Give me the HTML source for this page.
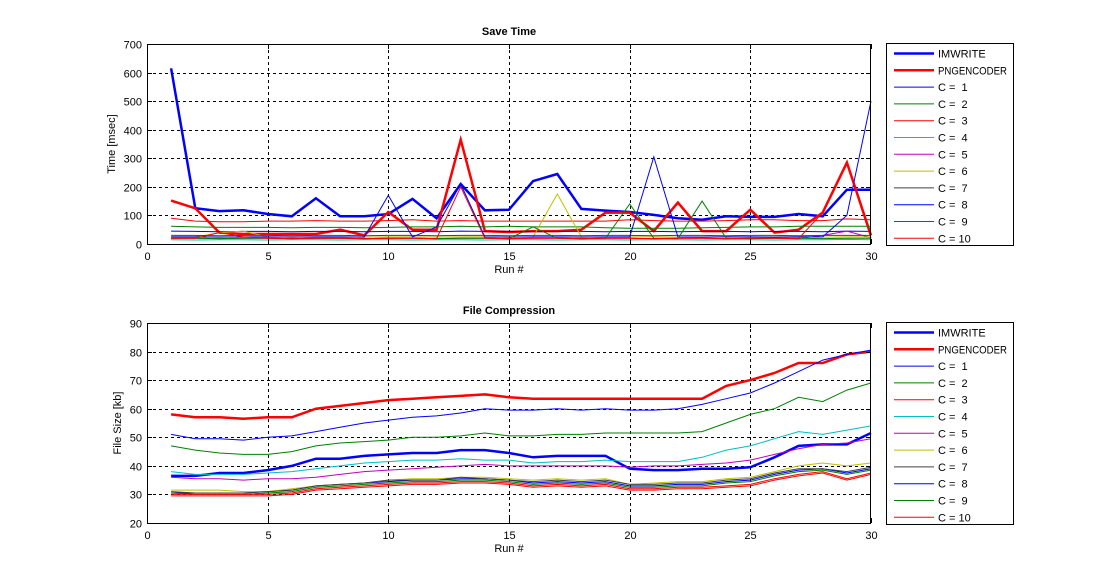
<!DOCTYPE html>
<html><head><meta charset="utf-8">
<style>
body{margin:0;background:#fff;}
svg{display:block;font-family:"Liberation Sans",Arial,sans-serif;}
text{white-space:pre;}
</style></head>
<body>
<svg id="fig" width="1120" height="588" viewBox="0 0 1120 588"></svg>
<script>
const runs = [1,2,3,4,5,6,7,8,9,10,11,12,13,14,15,16,17,18,19,20,21,22,23,24,25,26,27,28,29,30];
const seriesNames = ["IMWRITE","PNGENCODER","C =  1","C =  2","C =  3","C =  4","C =  5","C =  6","C =  7","C =  8","C =  9","C = 10"];
const xTicks = [0,5,10,15,20,25,30];
const timeTicks = [0,100,200,300,400,500,600,700];
const sizeTicks = [20,30,40,50,60,70,80,90];

const timeImwrite = [615,125,115,118,105,97,160,97,97,105,158,90,210,118,120,220,245,123,117,112,102,90,85,97,95,95,105,97,190,190];
const timePng = [152,125,40,35,35,35,35,50,30,112,50,50,365,45,42,45,45,50,110,110,45,145,45,45,120,40,50,110,285,30];
const timeC1 = [45,44,43,44,44,43,44,44,43,44,44,43,45,44,44,43,44,44,43,44,44,43,44,44,43,44,44,43,45,44];
const timeC2 = [62,60,58,58,58,57,58,58,57,58,60,60,62,60,62,60,60,60,57,55,55,55,57,58,60,60,62,62,62,62];
const timeC3 = [90,80,78,78,80,80,82,80,80,82,85,80,82,80,80,80,80,80,80,85,82,80,80,82,85,85,82,82,88,85];
const timeC4 = [15,14,15,15,14,15,15,14,15,15,14,15,15,14,15,15,14,15,15,14,15,15,14,15,15,14,15,15,16,15];
const timeC5 = [20,20,19,20,20,19,20,20,19,20,20,19,20,20,19,20,20,19,20,20,19,20,20,19,20,20,19,30,45,22];
const timeC6 = [25,25,40,45,25,24,25,25,24,25,25,24,25,25,24,25,175,25,24,25,25,24,25,25,24,25,25,24,25,25];
const timeC7 = [30,30,29,30,30,29,30,30,29,30,30,29,30,30,29,30,30,29,30,30,29,30,30,29,30,30,29,30,30,30];
const timeC8 = [25,25,24,25,25,24,25,25,24,170,25,60,210,25,24,25,25,24,25,25,305,25,24,25,25,24,25,25,100,500];
const timeC9 = [20,20,19,20,20,19,20,20,19,20,20,19,20,20,19,60,20,19,20,140,20,19,150,20,19,20,20,19,20,20];
const timeC10 = [20,20,40,25,20,19,20,20,19,20,20,19,200,20,19,20,20,19,20,20,19,20,20,19,20,20,19,110,283,20];

const sizeImwrite = [36.5,36.5,37.5,37.5,38.5,40,42.5,42.5,43.5,44,44.5,44.5,45.5,45.5,44.5,43,43.5,43.5,43.5,39,38.5,38.5,39,39,39.5,43,47,47.5,47.5,51.5];
const sizePng = [58,57,57,56.5,57,57,60,61,62,63,63.5,64,64.5,65,64,63.5,63.5,63.5,63.5,63.5,63.5,63.5,63.5,68,70,72.5,76,76,79,80];
const sizeC1 = [30.5,30.5,30.5,30.5,31,31.5,33,33.5,34,34.5,35,35,35.5,35.5,35,34,34.5,34,34.5,33,33,33.5,33.5,34.5,35,37,38.5,39,37.5,39];
const sizeC2 = [30.5,30,30,30,30.5,31,32.5,33,33.5,34,34.5,34.5,35,35,34.5,33.5,34,33.5,34,32.5,32.5,33,33,34,34.5,36.5,38,38.5,37,38.5];
const sizeC3 = [30,30,30,30,30,30.5,32,32.5,33,33.5,34,34,34.5,34.5,34,33,33.5,33,33.5,32,32,32.5,32.5,33,33.5,35.5,37,38,35.5,37.5];
const sizeC4 = [38,37,37,37,37.5,38,39,40,41,41.5,42,42,42.5,42,42,41,41.5,41.5,42,41.5,41.5,41.5,43,45.5,47,49.5,52,51,52.5,54];
const sizeC5 = [36,35.5,35.5,35,35.5,35.5,36,37,38,38.5,39,39.5,40,40.5,40,40,40,40,40,39.5,40,40,40.5,41,42,44,46,47.5,48,49.5];
const sizeC6 = [31.5,31.5,31.5,31,31,32,33,33.5,34,35,35.5,35.5,36,36,35.5,35,35.5,35,35.5,33.5,34,34.5,34.5,35.5,36,38,40,41,40,41];
const sizeC7 = [31,30.5,30.5,30.5,31,31.5,33,33.5,34,35,35,35,36,35.5,35,34.5,35,34.5,35,33.5,33.5,34,34,35,35.5,37.5,39,39,38,39.5];
const sizeC8 = [51,49.5,49.5,49,50,50.5,52,53.5,55,56,57,57.5,58.5,60,59.5,59.5,60,59.5,60,59.5,59.5,60,61.5,63.5,65.5,69,73,77,79,80.5];
const sizeC9 = [47,45.5,44.5,44,44,45,47,48,48.5,49,50,50,50.5,51.5,50.5,50.5,51,51,51.5,51.5,51.5,51.5,52,55,58,60,64,62.5,66.5,69];
const sizeC10 = [29.5,29.5,29.5,29.5,29.5,30,31.5,32,32.5,33,33.5,33.5,34,34,33.5,32.5,33,32.5,33,31.5,31.5,32,32,32.5,33,35,36.5,37.5,35,37];

const colors = ["#0000ff","#ff0000","#0000ff","#008000","#ff0000","#00bfbf","#bf00bf","#bfbf00","#404040","#0000ff","#008000","#ff0000"];
const widths = [2.5,2.5,1,1,1,1,1,1,1,1,1,1];

const NS = "http://www.w3.org/2000/svg";
const svg = document.getElementById('fig');
function mk(tag, attrs, parent, text){
  const e = document.createElementNS(NS, tag);
  for (const k in attrs) e.setAttribute(k, attrs[k]);
  if (text !== undefined) e.textContent = text;
  (parent || svg).appendChild(e);
  return e;
}

function drawPanel(cfg){
  const L=147,R=871,T=cfg.top,B=cfg.top+200;
  const sx = v => L + (v-0)/(30-0)*(R-L);
  const sy = v => B - (v-cfg.ymin)/(cfg.ymax-cfg.ymin)*(B-T);
  const g = mk('g',{});
  
  
  mk('rect',{x:L,y:T,width:R-L,height:B-T,fill:'#fff'},g);
  const grid = mk('g',{stroke:'#000','stroke-width':1,'stroke-dasharray':'3,3'},g);
  
  
  xTicks.forEach(t=>{ if(t>0&&t<30){ const x=Math.round(sx(t))+0.5; mk('line',{x1:x,y1:T,x2:x,y2:B},grid);} });
  cfg.yt.forEach(t=>{ if(t>cfg.ymin&&t<cfg.ymax){ const y=Math.round(sy(t))+0.5; mk('line',{x1:L,y1:y,x2:R,y2:y},grid);} });
  const sg = mk('g',{fill:'none','stroke-linejoin':'miter'},g);
  cfg.data.forEach((d,i)=>{
    const pts = runs.map((r,j)=>sx(r).toFixed(1)+','+sy(d[j]).toFixed(1)).join(' ');
    const pl = mk('polyline',{points:pts,stroke:colors[i],'stroke-width':widths[i]},sg);
    
    
  });
  mk('rect',{x:L+0.5,y:T+0.5,width:R-L-1,height:B-T,fill:'none',stroke:'#000','stroke-width':1},g);
  const tg = mk('g',{'font-size':11,fill:'#000'},g);
  xTicks.forEach(t=>{
    const x=Math.round(sx(t))+0.5;
    mk('line',{x1:x,y1:B,x2:x,y2:B-5,stroke:'#000'},tg);
    mk('line',{x1:x,y1:T,x2:x,y2:T+5,stroke:'#000'},tg);
    const tx = mk('text',{x:x,y:B+16,'text-anchor':'middle'},tg,String(t));
    
    
  });
  cfg.yt.forEach(t=>{
    const y=Math.round(sy(t))+0.5;
    mk('line',{x1:L,y1:y,x2:L+5,y2:y,stroke:'#000'},tg);
    mk('line',{x1:R,y1:y,x2:R-5,y2:y,stroke:'#000'},tg);
    const tx = mk('text',{x:L-5,y:y+4,'text-anchor':'end'},tg,String(t));
    
    
  });
  const title = mk('text',{x:(L+R)/2,y:T-9,'text-anchor':'middle','font-size':11,'font-weight':'bold'},g,cfg.title);
  
  
  const xl = mk('text',{x:(L+R)/2,y:B+29,'text-anchor':'middle','font-size':11},g,'Run #');
  
  
  const yx = cfg.ylx, yy=(T+B)/2;
  const yl = mk('text',{x:yx,y:yy,'text-anchor':'middle','font-size':11,transform:'rotate(-90 '+yx+' '+yy+')'},g,cfg.ylabel);
  
  
  const lg = mk('g',{},g);
  
  
  mk('rect',{x:886.5,y:T-0.5,width:127,height:202,fill:'#fff',stroke:'#000','stroke-width':1},lg);
  seriesNames.forEach((n,i)=>{
    const y = T + 9.5 + i*16.8;
    const e = mk('g',{},lg);
    
    
    mk('line',{x1:894,y1:y,x2:934,y2:y,stroke:colors[i],'stroke-width':widths[i]},e);
    const ta = {x:938,y:y+4,'font-size':11};
    if (n.length > 8) { ta.textLength = 69; ta.lengthAdjust = 'spacingAndGlyphs'; }
    mk('text',ta,e,n);
  });
}

drawPanel({key:'save-time',top:44,ymin:0,ymax:700,yt:timeTicks,title:'Save Time',ylabel:'Time [msec]',ylx:115,
  data:[timeImwrite,timePng,timeC1,timeC2,timeC3,timeC4,timeC5,timeC6,timeC7,timeC8,timeC9,timeC10]});
drawPanel({key:'file-compression',top:323,ymin:20,ymax:90,yt:sizeTicks,title:'File Compression',ylabel:'File Size [kb]',ylx:121,
  data:[sizeImwrite,sizePng,sizeC1,sizeC2,sizeC3,sizeC4,sizeC5,sizeC6,sizeC7,sizeC8,sizeC9,sizeC10]});
</script>
</body></html>
